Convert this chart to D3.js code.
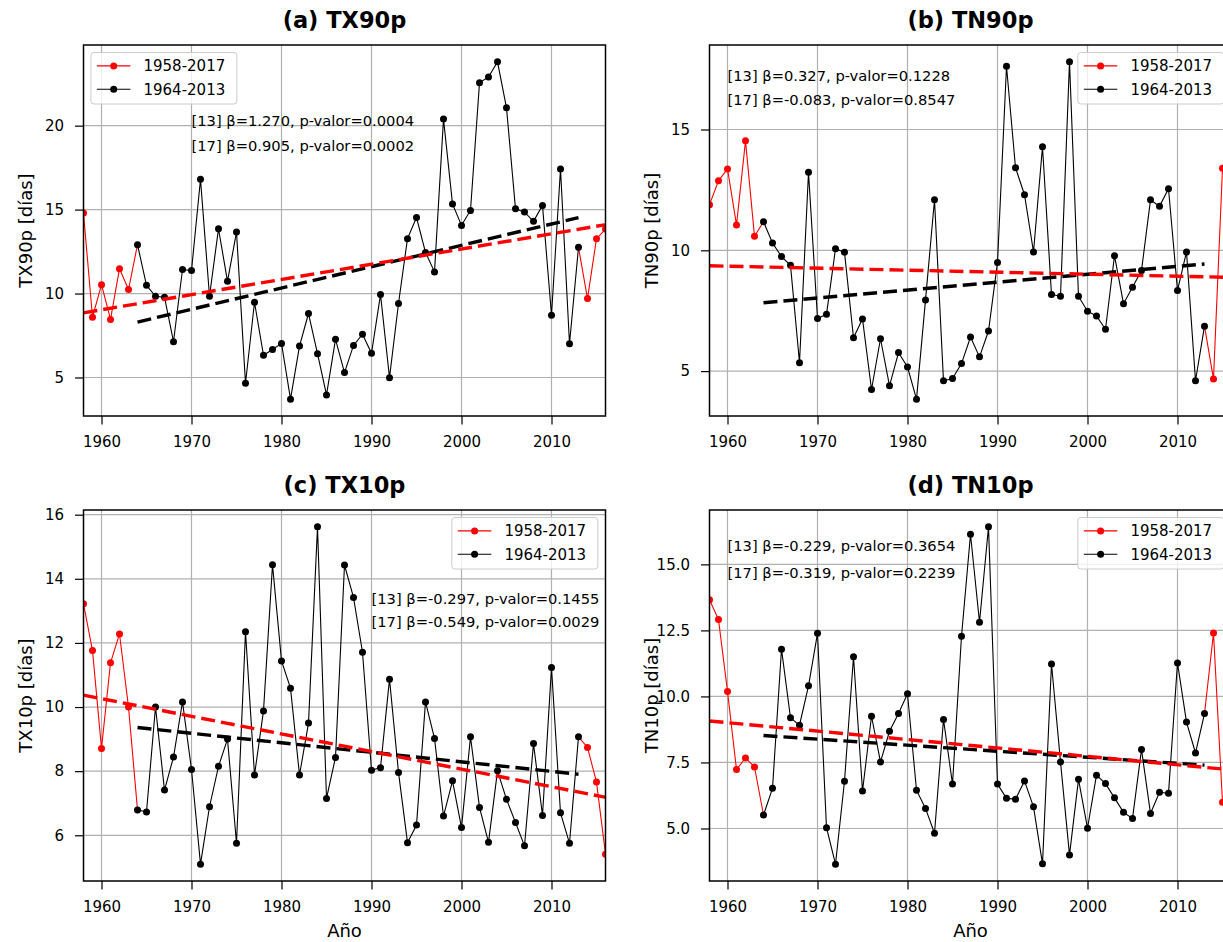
<!DOCTYPE html>
<html>
<head>
<meta charset="utf-8">
<script src="https://cdn.jsdelivr.net/npm/d3@7"></script>
<style>
  html, body { margin: 0; padding: 0; background: #fff; overflow: hidden; }
  svg { display: block; font-family: "DejaVu Sans", sans-serif; }
</style>
</head>
<body>
<svg id="fig" width="1223" height="942"></svg>
<script>
// ---- data -------------------------------------------------------------
const firstYear = 1958;
const subStart = 1964, subEnd = 2013;     // 1964-2013 sub-period
const fullEnd = 2017;                     // 1958-2017 full period

// annual index values, one per year starting at 1958
const tx90p = [14.79, 8.59, 10.53, 8.46, 11.48, 10.24, 12.91, 10.49, 9.84, 9.78,
  7.13, 11.43, 11.37, 16.81, 9.84, 13.86, 10.73, 13.66, 4.66, 9.48,
  6.32, 6.67, 7.03, 3.71, 6.87, 8.81, 6.42, 3.96, 7.27, 5.29,
  6.91, 7.58, 6.44, 9.94, 4.99, 9.41, 13.27, 14.53, 12.45, 11.29,
  20.39, 15.34, 14.06, 14.95, 22.55, 22.9, 23.8, 21.06, 15.05, 14.85,
  14.3, 15.25, 8.71, 17.42, 7.01, 12.75, 9.70, 13.27, 13.84];

const tn90p = [11.89, 12.88, 13.37, 11.05, 14.53, 10.58, 11.18, 10.30, 9.74, 9.38,
  5.35, 13.23, 7.18, 7.35, 10.06, 9.92, 6.38, 7.16, 4.24, 6.34,
  4.39, 5.77, 5.17, 3.84, 7.94, 12.09, 4.60, 4.69, 5.31, 6.41,
  5.59, 6.66, 9.50, 17.62, 13.42, 12.30, 9.93, 14.29, 8.17, 8.10,
  17.80, 8.10, 7.48, 7.28, 6.73, 9.78, 7.79, 8.47, 9.16, 12.09,
  11.82, 12.55, 8.34, 9.93, 4.60, 6.86, 4.67, 13.40];

const tx10p = [13.22, 11.76, 8.71, 11.38, 12.28, 10.0, 6.79, 6.73, 10.0, 7.41,
  8.44, 10.16, 8.05, 5.10, 6.89, 8.15, 9.0, 5.75, 12.35, 7.88,
  9.88, 14.44, 11.44, 10.59, 7.88, 9.50, 15.62, 7.15, 8.43, 14.43,
  13.42, 11.71, 8.03, 8.11, 10.87, 7.96, 5.77, 6.32, 10.16, 9.02,
  6.60, 7.70, 6.24, 9.07, 6.87, 5.78, 8.01, 7.12, 6.40, 5.67,
  8.86, 6.62, 11.23, 6.70, 5.75, 9.07, 8.74, 7.66, 5.41];

const tn10p = [13.66, 12.91, 10.19, 7.23, 7.67, 7.33, 5.51, 6.52, 11.79, 9.19,
  8.91, 10.40, 12.39, 5.03, 3.65, 6.79, 11.50, 6.42, 9.25, 7.52,
  8.68, 9.35, 10.10, 6.45, 5.76, 4.82, 9.13, 6.68, 12.28, 16.14,
  12.81, 16.42, 6.68, 6.14, 6.11, 6.80, 5.82, 3.66, 11.23, 7.52,
  4.00, 6.86, 5.01, 7.02, 6.70, 6.16, 5.61, 5.38, 7.99, 5.57,
  6.37, 6.33, 11.27, 9.03, 7.86, 9.35, 12.40, 5.99];

// trend slopes (days per decade) and p-values: [13] = 1964-2013, [17] = 1958-2017
const beta13 = [1.270, 0.327, -0.297, -0.229];
const pval13 = ["0.0004", "0.1228", "0.1455", "0.3654"];
const beta17 = [0.905, -0.083, -0.549, -0.319];
const pval17 = ["0.0002", "0.8547", "0.0029", "0.2239"];
// fitted trend value at the first year of each period
const trendStart13 = [8.30, 7.83, 9.36, 8.52];   // at 1964
const trendStart17 = [8.85, 9.36, 10.37, 9.07];  // at 1958

// axis ticks
const yearTicks = [1960, 1970, 1980, 1990, 2000, 2010, 2020];
const tx90pTicks = [5, 10, 15, 20];
const tn90pTicks = [5, 10, 15];
const tx10pTicks = [6, 8, 10, 12, 14, 16];
const tn10pTicks = [5.0, 7.5, 10.0, 12.5, 15.0];

const titles = ["(a) TX90p", "(b) TN90p", "(c) TX10p", "(d) TN10p"];
const yLabels = ["TX90p [días]", "TN90p [días]", "TX10p [días]", "TN10p [días]"];
const seriesNames = ["1958-2017", "1964-2013"];

// ---- layout -----------------------------------------------------------
const RED = "#ff0000", BLACK = "#000000";
const COL_X = [83.5, 709.5], ROW_Y = [45, 510];
const W = 522, H = 371;
const X_DOMAIN = [1958, 2016];

// plain hyphen-minus for negative numbers
const locale = d3.formatLocale({ decimal: ".", thousands: ",", grouping: [3], currency: ["", ""], minus: "-" });

const panels = [
  { values: tx90p, ticks: tx90pTicks, fmt: locale.format("d"),   col: 0, row: 0, legend: "left",  note: [1970, 20.0, 18.5] },
  { values: tn90p, ticks: tn90pTicks, fmt: locale.format("d"),   col: 1, row: 0, legend: "right", note: [1960, 17.0, 16.0] },
  { values: tx10p, ticks: tx10pTicks, fmt: locale.format("d"),   col: 0, row: 1, legend: "right", note: [1990, 13.2, 12.5] },
  { values: tn10p, ticks: tn10pTicks, fmt: locale.format(".1f"), col: 1, row: 1, legend: "right", note: [1960, 15.5, 14.5] }
];

const svg = d3.select("#fig");

panels.forEach((p, i) => {
  const left = COL_X[p.col], top = ROW_Y[p.row];
  const g = svg.append("g").attr("transform", `translate(${left},${top})`);

  const x = d3.scaleLinear().domain(X_DOMAIN).range([0, W]);
  const ext = d3.extent(p.values);
  const pad = (ext[1] - ext[0]) * 0.05;
  const y = d3.scaleLinear().domain([ext[0] - pad, ext[1] + pad]).range([H, 0]);

  const clipId = "clip" + i;
  g.append("clipPath").attr("id", clipId)
    .append("rect").attr("width", W).attr("height", H);

  // grid
  const grid = g.append("g").attr("clip-path", `url(#${clipId})`);
  grid.selectAll("line.vx").data(yearTicks).join("line")
    .attr("x1", d => x(d)).attr("x2", d => x(d))
    .attr("y1", 0).attr("y2", H)
    .attr("stroke", "#b0b0b0").attr("stroke-width", 1.2);
  grid.selectAll("line.hy").data(p.ticks).join("line")
    .attr("x1", 0).attr("x2", W)
    .attr("y1", d => y(d)).attr("y2", d => y(d))
    .attr("stroke", "#b0b0b0").attr("stroke-width", 1.2);

  // series: full period in red, the 1964-2013 sub-period in black on top
  const pts = p.values.map((v, k) => [firstYear + k, v]);
  const sub = pts.filter(d => d[0] >= subStart && d[0] <= subEnd);
  const headPart = pts.filter(d => d[0] <= subStart);
  const tailPart = pts.filter(d => d[0] >= subEnd);
  const redOnly = pts.filter(d => d[0] < subStart || d[0] > subEnd);
  const line = d3.line().x(d => x(d[0])).y(d => y(d[1]));
  const plot = g.append("g").attr("clip-path", `url(#${clipId})`);

  [headPart, tailPart].forEach(part => {
    plot.append("path").datum(part).attr("d", line)
      .attr("fill", "none").attr("stroke", RED).attr("stroke-width", 1.1);
  });
  plot.append("g").selectAll("circle").data(redOnly).join("circle")
    .attr("cx", d => x(d[0])).attr("cy", d => y(d[1])).attr("r", 3.5)
    .attr("fill", RED);
  plot.append("path").datum(sub).attr("d", line)
    .attr("fill", "none").attr("stroke", BLACK).attr("stroke-width", 1.1);
  plot.append("g").selectAll("circle").data(sub).join("circle")
    .attr("cx", d => x(d[0])).attr("cy", d => y(d[1])).attr("r", 3.5)
    .attr("fill", BLACK);

  // linear trends (slope given per decade)
  const trend13 = [subStart, subEnd].map(t => [t, trendStart13[i] + beta13[i] / 10 * (t - subStart)]);
  const trend17 = [firstYear, fullEnd].map(t => [t, trendStart17[i] + beta17[i] / 10 * (t - firstYear)]);
  [[trend13, BLACK], [trend17, RED]].forEach(([data, color]) => {
    plot.append("path").datum(data).attr("d", line)
      .attr("fill", "none").attr("stroke", color)
      .attr("stroke-width", 3.4).attr("stroke-dasharray", "14 6");
  });

  // trend annotations
  const fmtB = locale.format(".3f");
  const notes = [
    `[13] β=${fmtB(beta13[i])}, p-valor=${pval13[i]}`,
    `[17] β=${fmtB(beta17[i])}, p-valor=${pval17[i]}`
  ];
  notes.forEach((t, k) => {
    g.append("text")
      .attr("x", x(p.note[0])).attr("y", y(p.note[1 + k]))
      .attr("font-size", 14.7).attr("fill", "#000").text(t);
  });

  // axes
  const xAxis = d3.axisBottom(x).tickValues(yearTicks.filter(t => t <= X_DOMAIN[1]))
    .tickFormat(locale.format("d")).tickSize(8.5).tickPadding(12.3);
  const yAxis = d3.axisLeft(y).tickValues(p.ticks).tickFormat(p.fmt)
    .tickSize(8.5).tickPadding(11);
  const gx = g.append("g").attr("transform", `translate(0,${H})`).call(xAxis);
  const gy = g.append("g").call(yAxis);
  [gx, gy].forEach(a => {
    a.select(".domain").remove();
    a.attr("font-family", null).attr("font-size", null);
    a.selectAll("line").attr("stroke", "#000").attr("stroke-width", 1.2);
    a.selectAll("text").attr("font-size", 15).attr("fill", "#000");
  });

  // frame
  g.append("rect").attr("width", W).attr("height", H)
    .attr("fill", "none").attr("stroke", "#000").attr("stroke-width", 1.5);

  // title and labels
  g.append("text").attr("x", W / 2).attr("y", -17)
    .attr("text-anchor", "middle").attr("font-size", 22.5).attr("font-weight", "bold")
    .text(titles[i]);
  g.append("text")
    .attr("transform", `translate(-52,${H / 2}) rotate(-90)`)
    .attr("text-anchor", "middle").attr("font-size", 18).text(yLabels[i]);
  if (p.row === 1) {
    g.append("text").attr("x", W / 2).attr("y", H + 56)
      .attr("text-anchor", "middle").attr("font-size", 18).text("Año");
  }

  // legend
  const LW = 146, LH = 51.5;
  const lx = p.legend === "left" ? 7.4 : W - 7.7 - LW;
  const lg = g.append("g").attr("transform", `translate(${lx},7.5)`);
  lg.append("rect").attr("width", LW).attr("height", LH).attr("rx", 3)
    .attr("fill", "#fff").attr("fill-opacity", 0.8)
    .attr("stroke", "#cccccc").attr("stroke-width", 1);
  [RED, BLACK].forEach((c, k) => {
    const cy = 13.4 + k * 23.3;
    lg.append("line").attr("x1", 6).attr("x2", 39.5).attr("y1", cy).attr("y2", cy)
      .attr("stroke", c).attr("stroke-width", 1.1);
    lg.append("circle").attr("cx", 22.8).attr("cy", cy).attr("r", 3.5).attr("fill", c);
    lg.append("text").attr("x", 52.6).attr("y", cy + 5.4)
      .attr("font-size", 15).attr("fill", "#000").text(seriesNames[k]);
  });
});
</script>
</body>
</html>
